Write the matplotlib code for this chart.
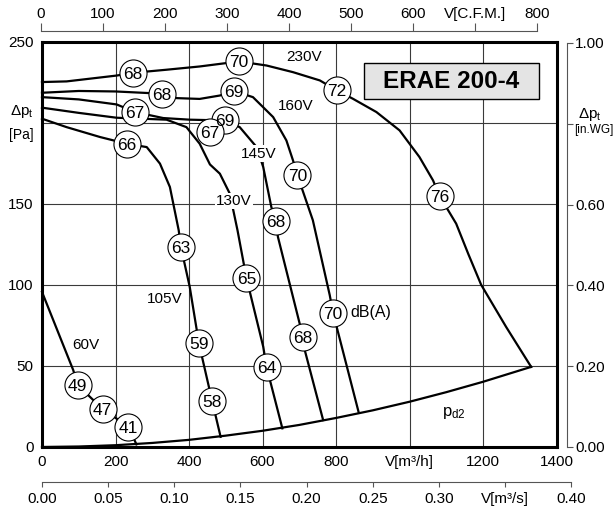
import matplotlib.pyplot as plt
from matplotlib.patches import Rectangle

plt.rcParams['font.family'] = ['Liberation Sans', 'DejaVu Sans']
plt.rcParams['mathtext.fontset'] = 'custom'
plt.rcParams['mathtext.rm'] = 'Liberation Sans'
plt.rcParams['mathtext.it'] = 'Liberation Sans'

# fan curves: (V [m3/h], dp_t [Pa])
curve_230v = [(0, 225), (67, 225.4), (203, 229), (248, 230.7), (339, 232.6), (429, 234.6),
              (536, 237.7), (611, 235.2), (683, 231.1), (756, 226), (803, 219.8), (846, 214.7),
              (910, 206.5), (973, 195.2), (1027, 178.8), (1064, 164.4), (1082, 154.7),
              (1127, 137.7), (1160, 119), (1195, 100), (1263, 74), (1331, 49.4)]
curve_160v = [(0, 218.4), (100, 219.5), (200, 219.2), (327, 217.8), (366, 215.1), (429, 214.6),
              (484, 216.7), (523, 219.4), (574, 215.7), (629, 203.4), (665, 189), (683, 176.7),
              (695, 167.5), (737, 139.8), (783, 93.6), (792, 82.7), (862, 21.1)]
curve_145v = [(0, 215.7), (100, 214.3), (203, 211.2), (253, 206.5), (330, 202.8), (402, 201.8),
              (497, 201.3), (538, 197.2), (584, 184.9), (602, 172.6), (624, 148), (636, 139.3),
              (642, 129.5), (701, 76.2), (710, 67.9), (715, 59.7), (765, 16.6)]
curve_130v = [(0, 209.2), (100, 206), (203, 203), (339, 201.8), (393, 197.2), (429, 187),
              (457, 174.2), (484, 168.5), (511, 156.2), (532, 133.6), (556, 104.5), (602, 61.8),
              (611, 49.4), (654, 11.5)]
curve_105v = [(0, 202.4), (67, 197.2), (158, 191.1), (230, 187), (285, 184.9), (321, 174.7),
              (348, 160.3), (372, 133.6), (378, 123.3), (402, 98.7), (427, 63.9), (463, 28.3),
              (486, 6.3)]
curve_60v = [(0, 95.6), (85, 47.4), (97, 38.2), (165, 23.4), (235, 12.5), (257, 1.6)]
curve_pd2 = [(0, 0), (100, 0.3), (200, 1.1), (300, 2.5), (400, 4.4), (500, 7), (600, 10),
             (700, 13.6), (800, 17.9), (900, 22.6), (1000, 27.9), (1100, 33.8), (1200, 40.2),
             (1331, 49.4)]

# sound levels dB(A): (value, V, dp_t)
dba_230v = [(68, 248, 230.7), (70, 536, 237.7), (72, 803, 219.8), (76, 1082, 154.7)]
dba_160v = [(68, 327, 217.8), (69, 523, 219.4), (70, 695, 167.5), (70, 792, 82.7)]
dba_145v = [(67, 253, 206.5), (69, 497, 201.3), (68, 636, 139.3), (68, 710, 67.9)]
dba_130v = [(67, 457, 194.2), (65, 556, 104.5), (64, 611, 49.4)]
dba_105v = [(66, 230, 187), (63, 378, 123.3), (59, 427, 63.9), (58, 463, 28.3)]
dba_60v = [(49, 97, 38.2), (47, 165, 23.4), (41, 235, 12.5)]

volt_labels = [("230V", 712, 240.5), ("160V", 689, 210), ("145V", 590, 180.8),
               ("130V", 522, 151.7), ("105V", 334, 91.5), ("60V", 119, 62.8)]

x_ticks = [0, 200, 400, 600, 800, 1000, 1200, 1400]
x_labels = ["0", "200", "400", "600", "800", "V[m³/h]", "1200", "1400"]
y_ticks = [0, 50, 100, 150, 200, 250]
y_labels = ["0", "50", "100", "150", "", "250"]
cfm_ticks = [0, 100, 200, 300, 400, 500, 600, 700, 800]
cfm_labels = ["0", "100", "200", "300", "400", "500", "600", "V[C.F.M.]", "800"]
m3s_ticks = [0, 0.05, 0.10, 0.15, 0.20, 0.25, 0.30, 0.35, 0.40]
m3s_labels = ["0.00", "0.05", "0.10", "0.15", "0.20", "0.25", "0.30", "V[m³/s]", "0.40"]
wg_ticks = [0, 0.2, 0.4, 0.6, 0.8, 1.0]
wg_labels = ["0.00", "0.20", "0.40", "0.60", "", "1.00"]

W, H = 614, 513
fig = plt.figure(figsize=(W / 100, H / 100), dpi=100)


def add_px_axes(x0, y0, x1, y1):
    return fig.add_axes([x0 / W, 1 - y1 / H, (x1 - x0) / W, (y1 - y0) / H])


def bare(a):
    a.patch.set_visible(False)
    for s in a.spines.values():
        s.set_visible(False)


ax = add_px_axes(42, 41.5, 556.5, 447)
ax.set_xlim(0, 1400)
ax.set_ylim(0, 250)
ax.set_xticks(x_ticks)
ax.set_xticklabels(x_labels)
ax.set_yticks(y_ticks)
ax.set_yticklabels(y_labels)
ax.tick_params(length=0, labelsize=11, pad=6)
ax.grid(color='#3a3a3a', lw=0.8)
ax.set_axisbelow(True)
for s in ax.spines.values():
    s.set_linewidth(2.2)

for curve in [curve_230v, curve_160v, curve_145v, curve_130v, curve_105v, curve_60v, curve_pd2]:
    v, p = zip(*curve)
    ax.plot(v, p, color='black', lw=1.6, zorder=3, clip_on=False)

for dots in [dba_230v, dba_160v, dba_145v, dba_130v, dba_105v, dba_60v]:
    for val, v, p in dots:
        ax.plot(v, p, 'o', ms=19.5, mfc='white', mec='black', mew=0.8, zorder=4)
        ax.text(v, p, str(val), ha='center', va='center_baseline', fontsize=12.5, zorder=5)

for txt, v, p in volt_labels:
    ax.text(v, p, txt, ha='center', va='center', fontsize=11, zorder=3.5,
            bbox=dict(facecolor='white', edgecolor='none', pad=1))
ax.text(894, 82.7, "dB(A)", ha='center', va='center', fontsize=11.5, zorder=5)
ax.text(1120, 21.1, "p$_{\\mathrm{d2}}$", ha='center', va='center', fontsize=12, zorder=5)

ax.add_patch(Rectangle((876, 214.5), 477, 22, facecolor='#e4e4e4', edgecolor='black',
                       lw=1, zorder=5))
ax.text(1114.5, 225.5, "ERAE 200-4", ha='center', va='center', fontsize=17.5,
        fontweight='bold', zorder=6)

# C.F.M. scale on top
cfm = add_px_axes(41, 30.7, 537, 40)
bare(cfm)
cfm.spines['top'].set_visible(True)
cfm.spines['top'].set_color('#555555')
cfm.set_xlim(0, 800)
cfm.set_yticks([])
cfm.xaxis.set_ticks_position('top')
cfm.set_xticks(cfm_ticks)
cfm.set_xticklabels(cfm_labels)
cfm.tick_params(direction='out', length=6, color='#555555', labelsize=11, pad=1)

# m3/s scale at the bottom
m3s = add_px_axes(42, 472, 571.2, 482)
bare(m3s)
m3s.spines['bottom'].set_visible(True)
m3s.spines['bottom'].set_color('#555555')
m3s.set_xlim(0, 0.40)
m3s.set_yticks([])
m3s.set_xticks(m3s_ticks)
m3s.set_xticklabels(m3s_labels)
m3s.tick_params(direction='out', length=3.5, color='#555555', labelsize=11, pad=4)

# in.WG scale on the right
wg = add_px_axes(555, 43, 567, 447)
bare(wg)
wg.spines['right'].set_visible(True)
wg.spines['right'].set_color('#555555')
wg.set_ylim(0, 1.0)
wg.set_xticks([])
wg.yaxis.set_ticks_position('right')
wg.set_yticks(wg_ticks)
wg.set_yticklabels(wg_labels)
wg.tick_params(direction='out', length=4.5, color='#555555', labelsize=11, pad=1.5)

fig.text(21.7 / W, 1 - 111.7 / H, "Δp$_{\\mathrm{t}}$", ha='center', va='center', fontsize=11)
fig.text(21.7 / W, 1 - 135 / H, "[Pa]", ha='center', va='center', fontsize=10)
fig.text(590 / W, 1 - 115 / H, "Δp$_{\\mathrm{t}}$", ha='center', va='center', fontsize=11)
fig.text(594 / W, 1 - 130 / H, "[in.WG]", ha='center', va='center', fontsize=8.5)

fig.savefig("out.png", dpi=100)
